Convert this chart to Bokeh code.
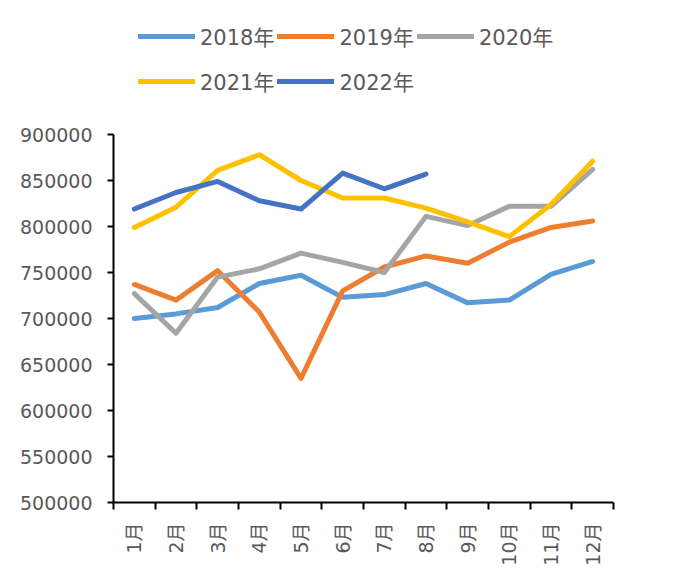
import math
from bokeh.plotting import figure
from bokeh.layouts import column
from bokeh.models import (Range1d, FixedTicker, BasicTickFormatter, Legend, LegendItem)
from bokeh.embed import file_html
from bokeh.resources import INLINE

months = ["1月", "2月", "3月", "4月", "5月", "6月", "7月", "8月", "9月", "10月", "11月", "12月"]
x_pos = list(range(1, 13))

years = ["2018年", "2019年", "2020年", "2021年", "2022年"]
s2018 = [700000, 705000, 712000, 738000, 747000, 723000, 726000, 738000, 717000, 720000, 748000, 762000]
s2019 = [737000, 720000, 752000, 707000, 635000, 730000, 756000, 768000, 760000, 783000, 799000, 806000]
s2020 = [727000, 684000, 745000, 754000, 771000, 761000, 750000, 811000, 801000, 822000, 822000, 862000]
s2021 = [799000, 821000, 861000, 878000, 850000, 831000, 831000, 820000, 805000, 789000, 824000, 871000]
s2022 = [819000, 837000, 849000, 828000, 819000, 858000, 841000, 857000]
series = [s2018, s2019, s2020, s2021, s2022]
colors = ["#5B9BD5", "#ED7D31", "#A5A5A5", "#FFC000", "#4472C4"]
y_ticks = [500000, 550000, 600000, 650000, 700000, 750000, 800000, 850000, 900000]

FONT = "DejaVu Sans, Noto Sans CJK SC"
TXT = "#595959"

# ---- legend strip (its lines lie outside its own view; only the legend shows) ----
TOP_H = 124
lg = figure(width=680, height=TOP_H, output_backend="svg", toolbar_location=None,
            x_range=Range1d(0, 1), y_range=Range1d(0, 1),
            x_axis_location=None, y_axis_location=None,
            min_border_left=113, min_border_right=67,
            min_border_top=0, min_border_bottom=0)
lg.grid.visible = False
lg.outline_line_color = None
items = []
for name, vals, c in zip(years, series, colors):
    r = lg.line(x_pos[:len(vals)], vals, line_color=c, line_width=5, line_cap="round")
    items.append(LegendItem(label=name, renderers=[r]))
legend = Legend(items=items, location=(25, TOP_H - 102), orientation="horizontal", ncols=3,
                glyph_width=57, glyph_height=42, label_standoff=5, spacing=3,
                padding=0, margin=0, label_text_font=FONT, label_text_font_size="21px",
                label_text_color=TXT, background_fill_alpha=0, border_line_color=None)
lg.add_layout(legend, "center")

# ---- chart ----
p = figure(width=680, height=585 - TOP_H, output_backend="svg", toolbar_location=None,
           x_range=Range1d(0.5, 12.5), y_range=Range1d(500000, 900000),
           min_border_left=113, min_border_right=67, min_border_top=134 - TOP_H,
           min_border_bottom=83)
p.outline_line_color = None
p.xgrid.visible = False
p.ygrid.visible = False

for vals, c in zip(series, colors):
    p.line(x_pos[:len(vals)], vals, line_color=c, line_width=5,
           line_cap="round", line_join="round")

ya = p.yaxis[0]
ya.ticker = FixedTicker(ticks=y_ticks)
ya.formatter = BasicTickFormatter(use_scientific=False)
ya.axis_line_color = "black"
ya.axis_line_width = 2
ya.major_tick_line_color = "black"
ya.major_tick_line_width = 2
ya.major_tick_out = 6
ya.major_tick_in = 0
ya.minor_tick_line_color = None
ya.major_label_standoff = 15
ya.major_label_text_font = FONT
ya.major_label_text_font_size = "19px"
ya.major_label_text_color = TXT

xa = p.xaxis[0]
xa.ticker = FixedTicker(ticks=x_pos, minor_ticks=[i + 0.5 for i in range(0, 13)])
xa.major_label_overrides = {i: m for i, m in zip(x_pos, months)}
xa.axis_line_color = "black"
xa.axis_line_width = 2
xa.major_tick_line_color = None
xa.major_tick_out = 0
xa.major_tick_in = 0
xa.minor_tick_line_color = "black"
xa.minor_tick_line_width = 2
xa.minor_tick_out = 7
xa.minor_tick_in = 0
xa.major_label_orientation = math.pi / 2
xa.major_label_standoff = 13
xa.major_label_text_font = FONT
xa.major_label_text_font_size = "19px"
xa.major_label_text_color = TXT

layout = column(lg, p, spacing=0)
open("out.html", "w").write(file_html(layout, INLINE))
